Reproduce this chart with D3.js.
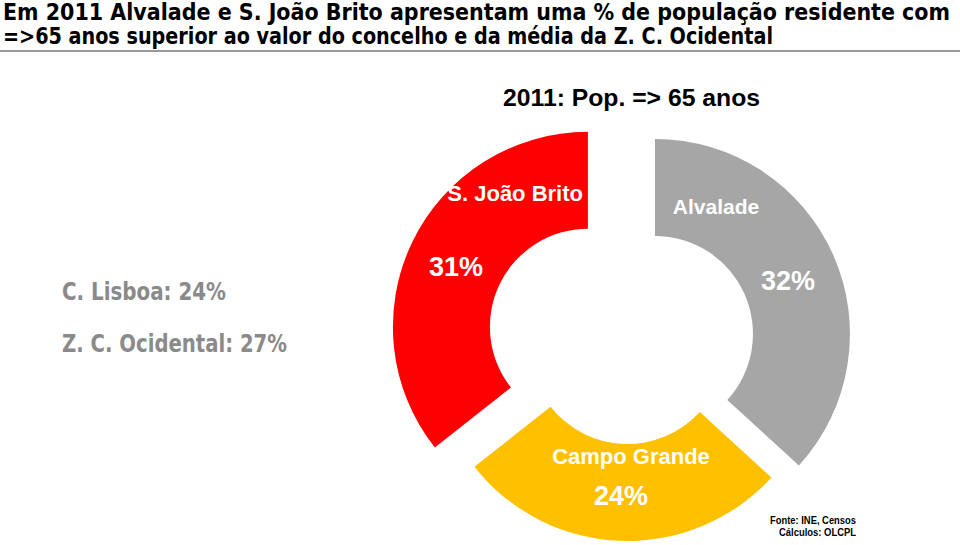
<!DOCTYPE html>
<html>
<head>
<meta charset="utf-8">
<script src="https://cdn.jsdelivr.net/npm/d3@7"></script>
<style>
  html, body { margin: 0; padding: 0; background: #fff; }
  svg { display: block; }
</style>
</head>
<body>
<svg id="chart" width="960" height="545"></svg>
<script>
// ---- data ----
const categories = ["Alvalade", "Campo Grande", "S. João Brito"];
const values = [32, 24, 31];
const valueLabels = ["32%", "24%", "31%"];
const colors = ["#A6A6A6", "#FFC000", "#FF0000"];
const titleLines = [
  "Em 2011 Alvalade e S. João Brito apresentam uma % de população residente com",
  "=>65 anos superior ao valor do concelho e da média da Z. C. Ocidental"
];
const subtitle = "2011: Pop.  => 65 anos";
const refLabels = ["C. Lisboa: 24%", "Z. C. Ocidental: 27%"];
const sourceLines = ["Fonte: INE, Censos", "Cálculos: OLCPL"];

// ---- layout ----
const svg = d3.select("#chart");
const cx = 627.5, cy = 346, R = 195, r = 98;
const explode = [30, 0, 44];
const namePos = [[716, 214], [631, 464], [583, 201]];
const nameAnchor = ["middle", "middle", "end"];
const nameSize = [21, 22, 22];
const valPos = [[788, 290], [621, 505], [456, 276]];

// title
const tFont = "Tahoma, 'DejaVu Sans Condensed', 'DejaVu Sans', sans-serif";
svg.selectAll("text.title").data(titleLines).enter().append("text")
  .attr("class", "title")
  .attr("x", 3).attr("y", (d, i) => 20 + i * 24)
  .attr("font-family", tFont).attr("font-weight", "bold")
  .attr("font-size", 23).attr("fill", "#000")
  .attr("textLength", (d, i) => i === 0 ? 947 : 770)
  .attr("lengthAdjust", "spacingAndGlyphs")
  .text(d => d);
svg.append("rect").attr("x", 0).attr("y", 50).attr("width", 960).attr("height", 2).attr("fill", "#9a9a9a");

// subtitle
svg.append("text").attr("x", 503).attr("y", 106)
  .attr("font-family", "'Liberation Sans', Arial, sans-serif").attr("font-weight", "bold")
  .attr("font-size", 23).attr("fill", "#000")
  .attr("textLength", 257).attr("lengthAdjust", "spacingAndGlyphs")
  .text(subtitle);

// donut
const pie = d3.pie().sort(null).value(d => d)(values);
const arc = d3.arc().innerRadius(r).outerRadius(R);
const g = svg.append("g").attr("transform", `translate(${cx},${cy})`);
g.selectAll("path").data(pie).enter().append("path")
  .attr("d", arc)
  .attr("fill", (d, i) => colors[i])
  .attr("transform", (d, i) => {
    const a = (d.startAngle + d.endAngle) / 2;
    return `translate(${Math.sin(a) * explode[i]},${-Math.cos(a) * explode[i]})`;
  });

// segment labels
const lFont = "'Liberation Sans', Arial, sans-serif";
svg.selectAll("text.name").data(categories).enter().append("text")
  .attr("class", "name")
  .attr("x", (d, i) => namePos[i][0]).attr("y", (d, i) => namePos[i][1])
  .attr("text-anchor", (d, i) => nameAnchor[i])
  .attr("font-family", lFont).attr("font-weight", "bold")
  .attr("font-size", (d, i) => nameSize[i]).attr("fill", "#fff")
  .text(d => d);
svg.selectAll("text.val").data(valueLabels).enter().append("text")
  .attr("class", "val")
  .attr("x", (d, i) => valPos[i][0]).attr("y", (d, i) => valPos[i][1])
  .attr("text-anchor", "middle")
  .attr("font-family", lFont).attr("font-weight", "bold")
  .attr("font-size", 27).attr("fill", "#fff")
  .text(d => d);

// reference labels
svg.selectAll("text.ref").data(refLabels).enter().append("text")
  .attr("class", "ref")
  .attr("x", 62).attr("y", (d, i) => 300 + i * 52)
  .attr("font-family", tFont).attr("font-weight", "bold")
  .attr("font-size", 24).attr("fill", "#8a8a8a")
  .attr("textLength", (d, i) => i === 0 ? 164 : 225)
  .attr("lengthAdjust", "spacingAndGlyphs")
  .text(d => d);

// source
svg.selectAll("text.src").data(sourceLines).enter().append("text")
  .attr("class", "src")
  .attr("x", 856).attr("y", (d, i) => 524 + i * 12)
  .attr("text-anchor", "end")
  .attr("font-family", lFont).attr("font-weight", "bold")
  .attr("font-size", 11).attr("fill", "#000")
  .attr("textLength", (d, i) => i === 0 ? 86 : 77)
  .attr("lengthAdjust", "spacingAndGlyphs")
  .text(d => d);
</script>
</body>
</html>
